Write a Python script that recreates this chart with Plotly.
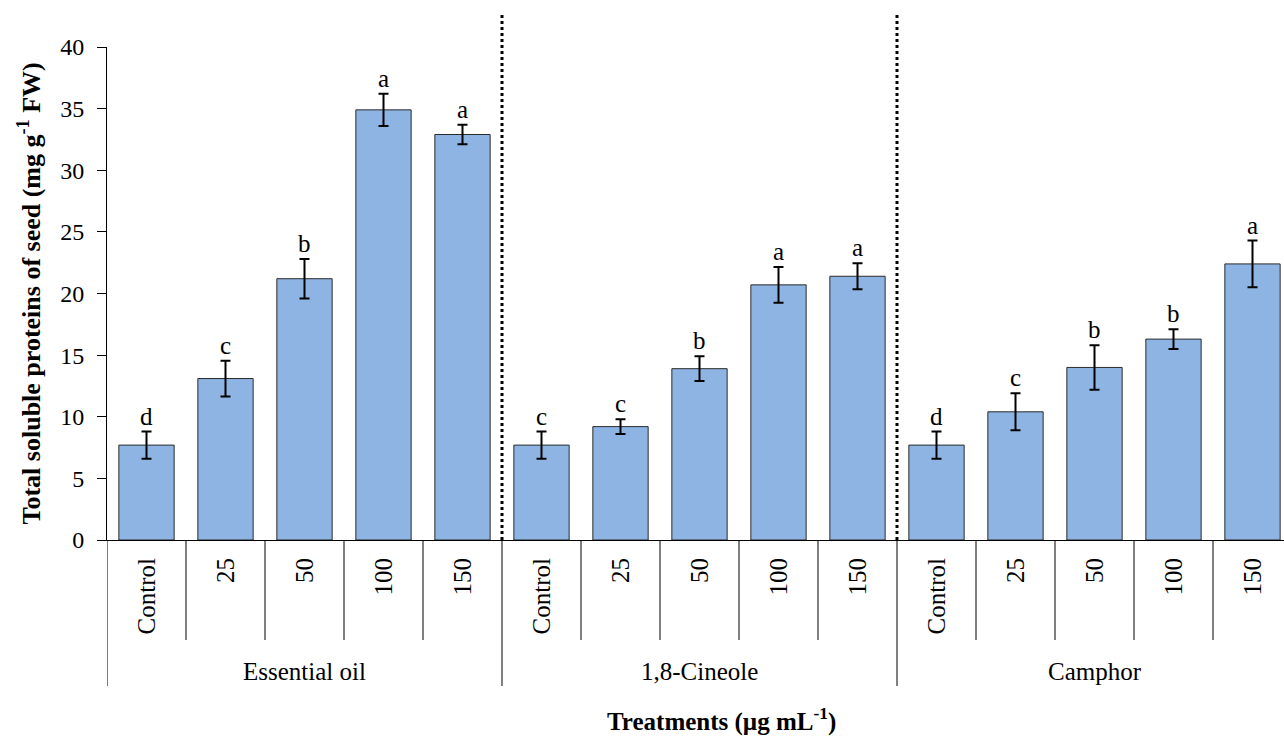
import plotly.graph_objects as go

# Treatment groups and doses (µg mL-1)
groups = ["Essential oil", "1,8-Cineole", "Camphor"]
doses = ["Control", "25", "50", "100", "150"]

# Total soluble proteins of seed (mg g-1 FW), mean and standard error
eo_mean = [7.7, 13.1, 21.2, 34.9, 32.9]
eo_err = [1.1, 1.45, 1.6, 1.3, 0.8]
cin_mean = [7.7, 9.2, 13.9, 20.7, 21.4]
cin_err = [1.1, 0.6, 1.0, 1.45, 1.05]
cam_mean = [7.7, 10.4, 14.0, 16.3, 22.4]
cam_err = [1.1, 1.5, 1.8, 0.8, 1.9]

# Significance letters (Duncan) within each group
eo_letters = ["d", "c", "b", "a", "a"]
cin_letters = ["c", "c", "b", "a", "a"]
cam_letters = ["d", "c", "b", "b", "a"]

means = eo_mean + cin_mean + cam_mean
errs = eo_err + cin_err + cam_err
letters = eo_letters + cin_letters + cam_letters
labels = doses * len(groups)
xpos = list(range(len(means)))
n_per = len(doses)

FONT = "Liberation Serif"
W, H = 1284, 736
ML, MR, MT, MB = 107, 0, 47, 196
plot_h = H - MT - MB
plot_w = W - ML - MR
cat_px = 79.0
x_max = -0.5 + plot_w / cat_px


def py(px_below_axis):
    """Paper y for a pixel offset below the x axis line."""
    return -px_below_axis / plot_h


fig = go.Figure()
fig.add_trace(go.Bar(
    x=xpos, y=means,
    width=0.7,
    marker=dict(color="#8EB4E3", line=dict(color="#2a2a2a", width=1)),
    error_y=dict(type="data", array=errs, visible=True,
                 color="black", thickness=2, width=5),
    hoverinfo="skip",
))

shapes = []
# vertical separators below the axis
for k in range(len(means)):
    xb = k - 0.5
    if k % n_per == 0:
        continue
    shapes.append(dict(type="line", xref="x", yref="paper",
                       x0=xb, x1=xb, y0=0, y1=py(100),
                       line=dict(color="black", width=1)))
for g in range(len(groups)):
    xb = g * n_per - 0.5
    shapes.append(dict(type="line", xref="x", yref="paper",
                       x0=xb, x1=xb, y0=0, y1=py(146),
                       line=dict(color="black", width=1)))
    if g > 0:
        # dotted divider between groups inside the plot
        shapes.append(dict(type="line", xref="x", yref="paper",
                           x0=xb, x1=xb, y0=0, y1=1 + 35 / plot_h,
                           line=dict(color="black", width=3, dash="dot")))

annotations = []
for x, m, e, L in zip(xpos, means, errs, letters):
    annotations.append(dict(x=x, y=m + e, xref="x", yref="y", text=L,
                            showarrow=False, yanchor="bottom", yshift=0,
                            font=dict(family=FONT, size=25, color="black")))
for g, name in enumerate(groups):
    annotations.append(dict(x=g * n_per + (n_per - 1) / 2, y=py(131),
                            xref="x", yref="paper", text=name,
                            showarrow=False, yanchor="middle",
                            font=dict(family=FONT, size=25, color="black")))
annotations.append(dict(x=(721 - ML) / plot_w, y=py(179),
                        xref="paper", yref="paper",
                        text="<b>Treatments (µg mL<sup>-1</sup>)</b>",
                        showarrow=False, yanchor="middle",
                        font=dict(family=FONT, size=25, color="black")))
annotations.append(dict(x=-77 / plot_w, y=0.5, xref="paper", yref="paper",
                        text="<b>Total soluble proteins of seed (mg g<sup>-1</sup> FW)</b>",
                        showarrow=False, textangle=-90,
                        xanchor="center", yanchor="middle",
                        font=dict(family=FONT, size=26, color="black")))

fig.update_layout(
    width=W, height=H,
    margin=dict(l=ML, r=MR, t=MT, b=MB),
    paper_bgcolor="white", plot_bgcolor="white",
    showlegend=False,
    shapes=shapes, annotations=annotations,
    xaxis=dict(range=[-0.5, x_max], tickmode="array", tickvals=xpos,
               ticktext=labels, tickangle=-90, ticks="",
               ticklabelstandoff=7,
               tickfont=dict(family=FONT, size=25, color="black"),
               showline=True, linecolor="black", linewidth=1,
               showgrid=False, zeroline=False, fixedrange=True),
    yaxis=dict(range=[0, 40], tickmode="linear", tick0=0, dtick=5,
               ticks="outside", ticklen=9, tickcolor="black",
               ticklabelstandoff=8,
               tickfont=dict(family=FONT, size=24, color="black"),
               showline=True, linecolor="black", linewidth=1,
               showgrid=False, zeroline=False, fixedrange=True),
    bargap=0.3,
)

fig.write_html("out.html")
